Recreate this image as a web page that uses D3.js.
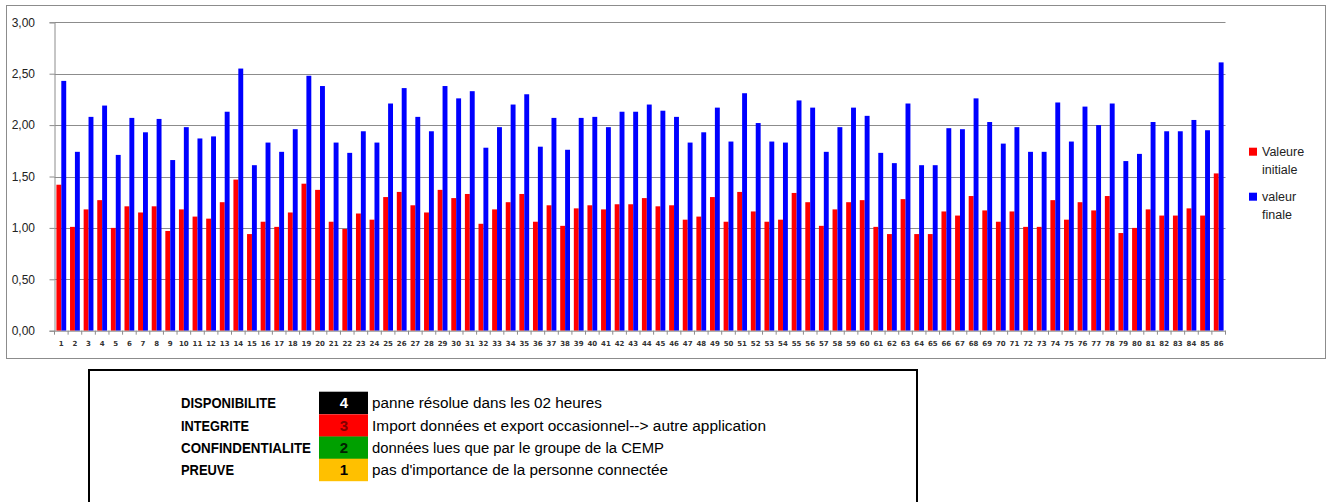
<!DOCTYPE html>
<html><head><meta charset="utf-8">
<script src="https://cdn.jsdelivr.net/npm/d3@7"></script>
<style>body{margin:0;background:#fff}svg{display:block}</style>
</head><body>
<svg id="c" width="1330" height="502"></svg>
<script>
const categories = d3.range(1, 87).map(String);
const valeurInitiale = [1.42,1.01,1.18,1.27,1.00,1.21,1.15,1.21,0.97,1.18,1.11,1.09,1.25,1.47,0.94,1.06,1.01,1.15,1.43,1.37,1.06,0.99,1.14,1.08,1.30,1.35,1.22,1.15,1.37,1.29,1.33,1.04,1.18,1.25,1.33,1.06,1.22,1.02,1.19,1.22,1.18,1.23,1.23,1.29,1.21,1.22,1.08,1.11,1.30,1.06,1.35,1.16,1.06,1.08,1.34,1.25,1.02,1.18,1.25,1.27,1.01,0.94,1.28,0.94,0.94,1.16,1.12,1.31,1.17,1.06,1.16,1.01,1.01,1.27,1.08,1.25,1.17,1.31,0.95,1.00,1.18,1.12,1.12,1.19,1.12,1.53];
const valeurFinale = [2.43,1.74,2.08,2.19,1.71,2.07,1.93,2.06,1.66,1.98,1.87,1.89,2.13,2.55,1.61,1.83,1.74,1.96,2.48,2.38,1.83,1.73,1.94,1.83,2.21,2.36,2.08,1.94,2.38,2.26,2.33,1.78,1.98,2.20,2.30,1.79,2.07,1.76,2.07,2.08,1.98,2.13,2.13,2.20,2.14,2.08,1.83,1.93,2.17,1.84,2.31,2.02,1.84,1.83,2.24,2.17,1.74,1.98,2.17,2.09,1.73,1.63,2.21,1.61,1.61,1.97,1.96,2.26,2.03,1.82,1.98,1.74,1.74,2.22,1.84,2.18,2.00,2.21,1.65,1.72,2.03,1.94,1.94,2.05,1.95,2.61];
const yTicks = [0, 0.5, 1, 1.5, 2, 2.5, 3];
const seriesNames = ["Valeure initiale", "valeur finale"];
const seriesColors = ["#ff0000", "#0000ff"];
const tableLabels = ["DISPONIBILITE", "INTEGRITE", "CONFINDENTIALITE", "PREUVE"];
const tableLevels = ["4", "3", "2", "1"];
const tableColors = ["#000000", "#ff0000", "#00a000", "#ffc000"];
const tableNumColors = ["#ffffff", "#800000", "#002200", "#000000"];
const tableDescriptions = ["panne résolue dans les 02 heures", "Import données et export occasionnel--> autre application", "données lues que par le groupe de la CEMP", "pas d'importance de la personne connectée"];
const labelWidths = [95, 68, 130, 53];
const descWidths = [230, 394, 292, 296];

const svg = d3.select("#c");
const locale = d3.formatLocale({decimal: ",", thousands: " ", grouping: [3], currency: ["", "€"]});
const fmt = locale.format(".2f");

// chart area border
svg.append("rect").attr("x", 6.5).attr("y", 5.5).attr("width", 1319).attr("height", 353)
  .attr("fill", "#fff").attr("stroke", "#8c8c8c").attr("stroke-width", 1);

const L = 54.5, R = 1225.5, T = 22.3, B = 330.7;
const x0 = d3.scaleBand().domain(categories).range([L, R]).paddingInner(0.28).paddingOuter(0.14);
const x1 = d3.scaleBand().domain([0, 1]).range([0, x0.bandwidth()]);
const y = d3.scaleLinear().domain([0, 3]).range([B, T]);

// grid
svg.append("g").selectAll("line").data(yTicks.filter(d => d > 0)).join("line")
  .attr("x1", L).attr("x2", R).attr("y1", d => Math.round(y(d)) + 0.5).attr("y2", d => Math.round(y(d)) + 0.5)
  .attr("stroke", "#8c8c8c").attr("stroke-width", 1);

// bars
const g = svg.append("g");
categories.forEach((c, i) => {
  [valeurInitiale[i], valeurFinale[i]].forEach((v, s) => {
    g.append("rect")
      .attr("x", x0(c) + x1(s)).attr("width", x1.bandwidth())
      .attr("y", y(v)).attr("height", y(0) - y(v))
      .attr("fill", seriesColors[s]);
  });
});

// y axis
const ya = d3.axisLeft(y).tickValues(yTicks).tickFormat(fmt).tickSize(5).tickPadding(14.5);
const yg = svg.append("g").attr("transform", `translate(${L},0)`).call(ya);
yg.select(".domain").attr("stroke", "#8c8c8c");
yg.selectAll(".tick line").attr("stroke", "#8c8c8c");
yg.selectAll("text").attr("font-family", "Liberation Sans, Arial, sans-serif").attr("font-size", 12).attr("fill", "#222");

// x axis
const xa = d3.axisBottom(x0).tickSize(0).tickPadding(10);
const xg = svg.append("g").attr("transform", `translate(0,${B})`).call(xa);
xg.select(".domain").attr("stroke", "#8c8c8c");
xg.selectAll("text").attr("font-family", "DejaVu Sans, sans-serif").attr("font-size", 7).attr("font-weight", "bold").attr("fill", "#333");
// category boundary ticks
const step = x0.step();
xg.append("g").selectAll("line").data(d3.range(categories.length + 1)).join("line")
  .attr("x1", d => L + d * step).attr("x2", d => L + d * step).attr("y1", 0).attr("y2", 4)
  .attr("stroke", "#8c8c8c");

// legend
const lg = svg.append("g").attr("font-family", "Liberation Sans, Arial, sans-serif").attr("font-size", 12.5).attr("fill", "#222");
const legLines = [["Valeure", "initiale"], ["valeur", "finale"]];
const legY = [147.7, 192.7];
seriesNames.forEach((n, s) => {
  lg.append("rect").attr("x", 1249).attr("y", legY[s]).attr("width", 8).attr("height", 8).attr("fill", seriesColors[s]);
  lg.append("text").attr("x", 1262).attr("y", legY[s] + 8).text(legLines[s][0]);
  lg.append("text").attr("x", 1262).attr("y", legY[s] + 26).text(legLines[s][1]);
});

// table box
svg.append("rect").attr("x", 89).attr("y", 370).attr("width", 828).attr("height", 150)
  .attr("fill", "#fff").attr("stroke", "#000").attr("stroke-width", 2);

const rowTop = [391.7, 414.3, 436.5, 458.7];
const rowH = 22.5;
const tg = svg.append("g").attr("font-family", "Liberation Sans Narrow, Liberation Sans, Arial, sans-serif").attr("font-size", 14);
tableLabels.forEach((lab, i) => {
  const cy = rowTop[i] + rowH / 2;
  tg.append("rect").attr("x", 319).attr("y", rowTop[i]).attr("width", 49).attr("height", rowH).attr("fill", tableColors[i]);
  tg.append("text").attr("x", 181).attr("y", cy + 5).attr("font-weight", "bold").attr("fill", "#000")
    .attr("textLength", labelWidths[i]).attr("lengthAdjust", "spacingAndGlyphs").text(lab);
  tg.append("text").attr("x", 344).attr("y", cy + 5.5).attr("text-anchor", "middle").attr("font-weight", "bold")
    .attr("font-size", 15).attr("fill", tableNumColors[i]).text(tableLevels[i]);
  tg.append("text").attr("x", 372).attr("y", cy + 5).attr("fill", "#000")
    .attr("textLength", descWidths[i]).attr("lengthAdjust", "spacingAndGlyphs").text(tableDescriptions[i]);
});
</script>
</body></html>
